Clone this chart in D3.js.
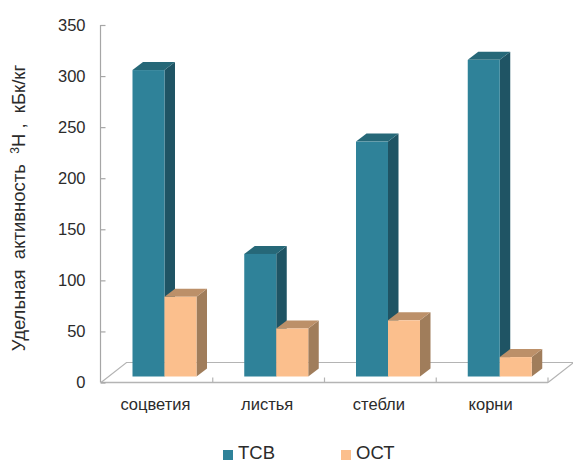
<!DOCTYPE html>
<html>
<head>
<meta charset="utf-8">
<script src="https://cdnjs.cloudflare.com/ajax/libs/d3/7.9.0/d3.min.js"></script>
<style>
  html, body { margin: 0; padding: 0; background: #fff; }
  svg { display: block; }
  text { font-family: "Liberation Sans", Arial, sans-serif; fill: #2b2b2b; }
</style>
</head>
<body>
<svg id="chart" width="573" height="463"></svg>
<script>
const categories = ["соцветия", "листья", "стебли", "корни"];
const seriesNames = ["ТСВ", "ОСТ"];
const tsv = [300, 120, 230, 310];
const ost = [78, 47, 55, 19];
const yTicks = [0, 50, 100, 150, 200, 250, 300, 350];

const frontColors = ["#2f8299", "#fbbf8d"];
const sideColors = ["#1f5464", "#a07d5b"];
const topColors = ["#266878", "#bc9069"];

const svg = d3.select("#chart");

const y = d3.scaleLinear().domain([0, 350]).range([382.5, 25]);
const x = d3.scaleBand().domain(categories).range([101, 548]);
const inner = d3.scaleBand().domain(seriesNames).range([0, 64]);

// Oblique projection used for the box sides and the floor
const barDepth = { dx: 10.5, dy: -8 };
const floorDepth = { dx: 25.5, dy: -20 };
const barLift = { dx: 7.5 + 24, dy: -6 };

// Floor of the 3D plot area
const axisColor = "#b4b4b4";
const fx0 = x.range()[0], fx1 = x.range()[1], fy = y(0);
svg.append("path")
  .attr("d", d3.line()([
    [fx0, fy], [fx0 + floorDepth.dx, fy + floorDepth.dy],
    [fx1 + floorDepth.dx, fy + floorDepth.dy], [fx1, fy]
  ]))
  .attr("fill", "none")
  .attr("stroke", axisColor)
  .attr("stroke-width", 1.2);

// Front edge of the floor with its upward category ticks
svg.append("line")
  .attr("x1", fx0).attr("x2", fx1).attr("y1", fy).attr("y2", fy)
  .attr("stroke", axisColor).attr("stroke-width", 1.5);
svg.selectAll("line.cat-tick")
  .data(categories)
  .join("line")
  .attr("class", "cat-tick")
  .attr("x1", d => x(d) + x.bandwidth())
  .attr("x2", d => x(d) + x.bandwidth())
  .attr("y1", fy)
  .attr("y2", fy - 5)
  .attr("stroke", axisColor)
  .attr("stroke-width", 1.2);

// Value axis
const yAxis = svg.append("g")
  .attr("transform", "translate(100.5,0)")
  .call(d3.axisLeft(y).tickValues(yTicks).tickSize(-5).tickPadding(15).tickFormat(d3.format("d")));
yAxis.selectAll("path, line").attr("stroke", "#a6a6a6").attr("stroke-width", 1.2);
yAxis.select("path").attr("d", `M0,${y(350)}V${y(0)}`);
yAxis.selectAll("text")
  .attr("font-size", 16.5)
  .style("font-family", '"Liberation Sans", Arial, sans-serif')
  .attr("fill", "#2b2b2b");

// Boxes: one group per series so the second series overlaps the first one's side
[tsv, ost].forEach((values, s) => {
  const name = seriesNames[s];
  const w = inner.bandwidth();
  const g = svg.append("g").attr("class", "series");
  categories.forEach((cat, i) => {
    const x0 = x(cat) + barLift.dx + inner(name);
    const x1 = x0 + w;
    const bottom = y(0) + barLift.dy;
    const top = y(values[i]) + barLift.dy;
    const d = barDepth;
    const box = g.append("g");
    box.append("path")
      .attr("fill", sideColors[s])
      .attr("d", d3.line()([[x1, top], [x1 + d.dx, top + d.dy], [x1 + d.dx, bottom + d.dy], [x1, bottom]]) + "Z");
    box.append("path")
      .attr("fill", topColors[s])
      .attr("d", d3.line()([[x0, top], [x0 + d.dx, top + d.dy], [x1 + d.dx, top + d.dy], [x1, top]]) + "Z");
    box.append("rect")
      .attr("x", x0).attr("y", top).attr("width", w).attr("height", bottom - top)
      .attr("fill", frontColors[s]);
  });
});

// Category labels
svg.selectAll("text.cat")
  .data(categories)
  .join("text")
  .attr("class", "cat")
  .attr("x", d => x(d) + x.bandwidth() / 2 - 1.5)
  .attr("y", 410)
  .attr("text-anchor", "middle")
  .attr("font-size", 16.5)
  .text(d => d);

// Axis title with the superscript isotope number
const title = svg.append("text")
  .attr("transform", "translate(25,208) rotate(-90)")
  .attr("text-anchor", "middle")
  .attr("font-size", 18.5)
  .style("white-space", "pre");
title.append("tspan").text("Удельная  активность  ");
title.append("tspan").attr("dy", -6).attr("font-size", 12).text("3");
title.append("tspan").attr("dy", 6).text("H ,  кБк/кг");

// Legend
const legendX = [223, 341];
seriesNames.forEach((name, i) => {
  svg.append("rect")
    .attr("x", legendX[i]).attr("y", 450).attr("width", 10).attr("height", 10)
    .attr("fill", frontColors[i]);
  svg.append("text")
    .attr("x", legendX[i] + 15).attr("y", 459)
    .attr("font-size", 18.5)
    .text(name);
});
</script>
</body>
</html>
